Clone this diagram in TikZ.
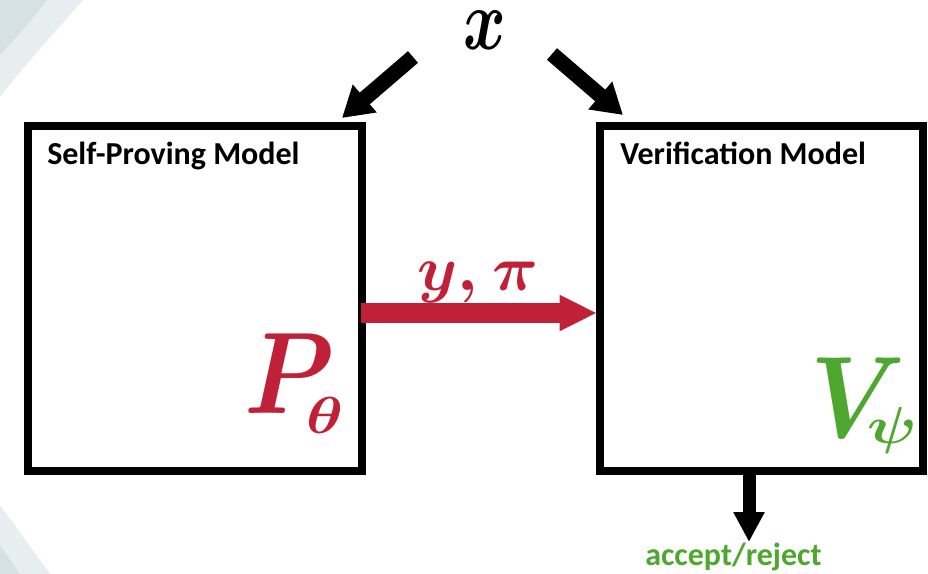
\RequirePackage{fix-cm}
\documentclass[tikz,border=0pt]{standalone}
\usepackage{fontspec}
\usepackage{amsmath}
\usepackage{bm}
\usepackage{graphicx}
\usetikzlibrary{arrows.meta}
\newfontfamily\calfont{Carlito}
\definecolor{pred}{RGB}{193,33,56}
\definecolor{pgreen}{RGB}{78,167,46}
\definecolor{bgdark}{RGB}{213,225,229}
\definecolor{bglight}{RGB}{231,238,239}
\newcommand{\bigsym}[1]{\scalebox{0.88}[1]{\fontsize{87}{90}\selectfont$\bm{#1}$}}
\newcommand{\subsym}[1]{\scalebox{1.2}[1]{\fontsize{39}{40}\selectfont$\bm{#1}$}}
\tikzset{
  modelbox/.style={draw=black, line width=6pt, minimum height=258.75pt, inner sep=0pt},
  title/.style={anchor=base west, inner sep=0pt, font=\calfont\bfseries\fontsize{24}{28}\selectfont},
  blockarrow/.style={line width=11.5pt, -{Triangle[length=22.5pt,width=26pt]}},
  bigmath/.style={inner sep=0pt, anchor=base west},
}
\begin{document}
\begin{tikzpicture}[x=0.75pt,y=-0.75pt]
\useasboundingbox (0,0) rectangle (928,574);
% background decoration
\fill[bglight] (0,0) -- (83,0) .. controls (55,32) and (22,68) .. (0,97) -- cycle;
\fill[bgdark] (0,0) -- (47,0) .. controls (32,20) and (14,40) .. (0,55) -- cycle;
\fill[bglight] (0,505) -- (50,574) -- (0,574) -- cycle;
\fill[bgdark] (0,545) -- (20,574) -- (0,574) -- cycle;
% boxes
\node[modelbox, minimum width=250.5pt] (prover) at (194.5,298.5) {};
\node[modelbox, minimum width=242.25pt] (verifier) at (761.5,298.5) {};
\node[title] (ptitle) at (47,165) {Self-Proving Model};
\node[title] (vtitle) at (620,165) {Verification Model};
% input x
\node[inner sep=0pt] (xin) at (485,30) {\scalebox{0.9}[1.2]{\fontsize{54}{60}\selectfont$\bm{x}$}};
\coordinate (lt) at (413,57);
\coordinate (lh) at (342,118);
\coordinate (rt) at (552,54);
\coordinate (rh) at (623,115);
\draw[blockarrow] (lt) -- (lh);
\draw[blockarrow] (rt) -- (rh);
% P theta
\node[bigmath, text=pred] (pnode) at (244,413) {\bigsym{P}};
\node[bigmath, text=pred] (thnode) at (306,433) {\subsym{\theta}};
% V psi
\node[bigmath, text=pgreen] (vnode) at (810,437) {\bigsym{V}};
\node[bigmath, text=pgreen] (psinode) at (867,443) {\subsym{\psi}};
% message arrow
\coordinate (ms) at (361,313);
\coordinate (me) at (597,313);
\draw[pred, line width=15pt, -{Triangle[length=28pt,width=25pt]}] (ms) -- (me);
\node[inner sep=0pt, anchor=base, text=pred] (msg) at (478,290) {\fontsize{48}{52}\selectfont$\bm{y}{\bm{,}}\mkern4mu\bm{\pi}$};
% output
\coordinate (os) at (749,475);
\coordinate (oe) at (749,542);
\draw[line width=9.75pt, -{Triangle[length=22.5pt,width=22pt]}] (os) -- (oe);
\node[anchor=base, inner sep=0pt, text=pgreen, font=\calfont\bfseries\fontsize{24}{28}\selectfont] (out) at (733.5,565) {accept/reject};
\end{tikzpicture}
\end{document}
